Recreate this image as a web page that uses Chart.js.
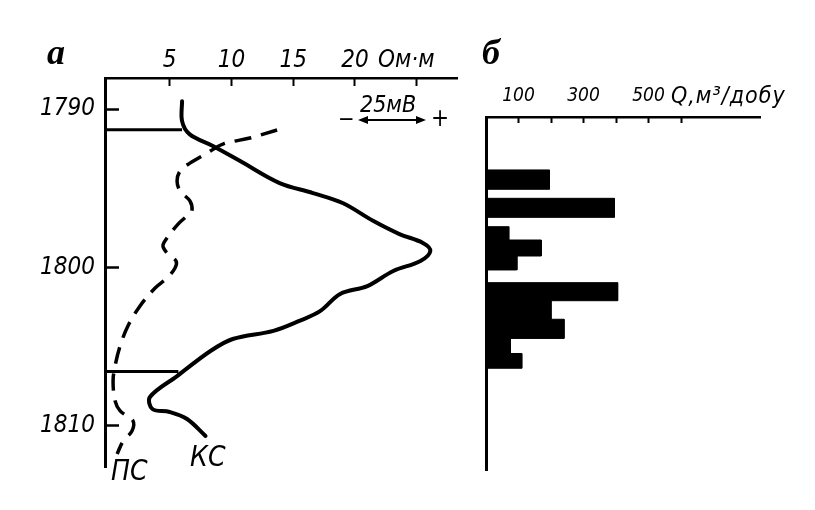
<!DOCTYPE html>
<html lang="uk">
<head>
    <meta charset="UTF-8">
    <title>КС, ПС і дебіт</title>
    <script src="https://cdn.jsdelivr.net/npm/chart.js"></script>
    <style>
        body { margin: 0; background: #fff; }
        #wrap { position: relative; width: 815px; height: 510px; overflow: hidden; }
        .box { position: absolute; top: 0; height: 510px; }
        .t { position: absolute; color: #000; white-space: nowrap; line-height: 1;
             font-family: 'Liberation Sans Narrow', 'DejaVu Sans Condensed', sans-serif; font-style: italic; }
        .s { font-family: 'Liberation Serif', 'DejaVu Serif', serif; font-weight: bold; font-size: 36px; }
    </style>
</head>
<body>
<div id="wrap">
    <div class="box" style="left:0;width:470px;"><canvas id="logChart"></canvas></div>
    <div class="box" style="left:470px;width:345px;"><canvas id="qChart"></canvas></div>

    <div class="t s" style="left:47px;top:34px;">а</div>
    <div class="t s" style="left:482px;top:34px;">б</div>
    <div class="t" style="left:378px;top:47px;font-size:24px;">Ом·м</div>
    <div class="t" style="left:360px;top:93px;font-size:23px;">25мВ</div>
    <div class="t" style="left:338px;top:108px;font-size:22px;">−</div>
    <div style="position:absolute;left:366px;top:119px;width:52px;height:2px;background:#000;"></div>
    <div style="position:absolute;left:358px;top:116px;width:0;height:0;border-top:4px solid transparent;border-bottom:4px solid transparent;border-right:10px solid #000;"></div>
    <div style="position:absolute;left:416px;top:116px;width:0;height:0;border-top:4px solid transparent;border-bottom:4px solid transparent;border-left:10px solid #000;"></div>
    <div class="t" style="left:431px;top:106px;font-size:24px;font-style:normal;">+</div>
    <div class="t" style="left:111px;top:457px;font-size:28px;">ПС</div>
    <div class="t" style="left:190px;top:443px;font-size:28px;">КС</div>
    <div class="t" style="left:671px;top:84px;font-size:23px;letter-spacing:1px;">Q,м³/добу</div>
</div>
<script>
    // осі
    const depthTicks = [1790, 1800, 1810];
    const rhoTicks = [5, 10, 15, 20, 25];
    const rhoLabels = ['5', '10', '15', '20', ''];
    const qTicks = [100, 200, 300, 400, 500, 600];
    const qLabels = ['100', '', '300', '', '500', ''];

    // КС, Ом·м
    const ksDepth = [1789.5, 1790.76, 1791.58, 1792.33, 1793.28, 1794.67, 1795.3, 1795.93, 1797.07, 1797.89,
        1798.45, 1798.96, 1799.59, 1800.22, 1801.17, 1801.67, 1802.74, 1803.37, 1804.0, 1804.51,
        1805.27, 1806.85, 1808.17, 1808.93, 1809.12, 1809.56, 1810.63];
    const ksRho = [6.0, 6.0, 6.6, 8.5, 10.7, 13.9, 16.6, 19.0, 21.5, 23.6,
        25.5, 26.1, 25.3, 23.1, 21.0, 18.8, 17.2, 15.5, 13.4, 10.1,
        8.3, 5.6, 3.4, 3.6, 5.0, 6.4, 7.9];

    // ПС, мВ (відносно лінії глин)
    const psDepth = [1791.32, 1791.83, 1792.21, 1792.78, 1793.41, 1793.91, 1794.54, 1795.17, 1795.8, 1796.44,
        1796.75, 1797.26, 1798.14, 1798.64, 1799.15, 1799.59, 1800.03, 1800.66, 1801.29, 1802.43,
        1803.69, 1804.95, 1806.21, 1807.16, 1808.42, 1809.05, 1809.68, 1810.32, 1810.95, 1811.77];
    const psMv = [67.1, 56.3, 45.6, 39.3, 32.5, 28.6, 27.4, 28.6, 32.5, 33.3,
        31.3, 27.8, 23.4, 21.8, 23.8, 27.0, 26.6, 23.4, 18.7, 12.7,
        7.9, 4.8, 2.8, 2.0, 2.8, 4.8, 9.9, 9.5, 6.0, 3.6];

    // покрівля і підошва пласта
    const layerDepth = [1791.3, 1806.57];
    const layerRho = [6.0, 5.7];

    // дебіт по інтервалах
    const qTop = [1793.91, 1795.70, 1797.49, 1798.33, 1799.34, 1801.02, 1802.16, 1803.33, 1804.54, 1805.49];
    const qBottom = [1795.13, 1796.90, 1798.33, 1799.34, 1800.22, 1802.16, 1803.33, 1804.54, 1805.49, 1806.42];
    const qValue = [195, 395, 70, 170, 95, 405, 200, 240, 75, 110];

    const fam = "'Liberation Sans Narrow', 'DejaVu Sans Condensed', sans-serif";
    const rhoMin = -0.24, rhoMax = 28.26;

    const ksData = ksDepth.map((d, i) => ({ x: ksRho[i], y: d }));
    const psData = psDepth.map((d, i) => ({ x: psMv[i], y: d }));
    const layerSets = layerDepth.map((d, i) => ({
        data: [{ x: rhoMin, y: d }, { x: layerRho[i], y: d }],
        showLine: true, borderColor: '#000', borderWidth: 3, pointRadius: 0, tension: 0
    }));

    new Chart(document.getElementById('logChart'), {
        type: 'scatter',
        data: {
            datasets: [
                { label: 'КС', data: ksData, showLine: true, borderColor: '#000', borderWidth: 4,
                  pointRadius: 0, tension: 0.35, borderCapStyle: 'round', borderJoinStyle: 'round' },
                { label: 'ПС', data: psData, xAxisID: 'xs', showLine: true, borderColor: '#000', borderWidth: 3.5,
                  borderDash: [17, 10], pointRadius: 0, tension: 0.35 },
                ...layerSets
            ]
        },
        options: {
            responsive: true,
            maintainAspectRatio: false,
            animation: false,
            layout: { padding: { left: 0, top: 0, right: 13, bottom: 43 } },
            plugins: { legend: { display: false }, tooltip: { enabled: false } },
            scales: {
                x: {
                    type: 'linear', position: 'top', min: rhoMin, max: rhoMax,
                    afterBuildTicks: s => { s.ticks = rhoTicks.map(v => ({ value: v })); },
                    afterFit: s => { s.height = 78; },
                    grid: { drawOnChartArea: false, color: '#000', tickLength: -8, tickWidth: 2 },
                    border: { color: '#000', width: 2.5 },
                    ticks: { color: '#000', padding: 11, maxRotation: 0, autoSkip: false,
                             font: { family: fam, size: 24, style: 'italic' },
                             callback: (v, i) => rhoLabels[i] }
                },
                xs: { type: 'linear', axis: 'x', display: false, min: -1.2, max: 138.5 },
                y: {
                    type: 'linear', reverse: true, min: 1788.04, max: 1812.59,
                    afterBuildTicks: s => { s.ticks = depthTicks.map(v => ({ value: v })); },
                    afterFit: s => { s.width = 105; },
                    grid: { drawOnChartArea: false, color: '#000', tickLength: -14, tickWidth: 2.5 },
                    border: { color: '#000', width: 3 },
                    ticks: { color: '#000', padding: 24, autoSkip: false,
                             font: { family: fam, size: 24, style: 'italic' },
                             callback: (v, i) => String(depthTicks[i]) }
                }
            }
        }
    });

    const qPoly = [];
    qTop.forEach((t, i) => {
        qPoly.push({ x: 0, y: t }, { x: qValue[i], y: t }, { x: qValue[i], y: qBottom[i] }, { x: 0, y: qBottom[i] });
    });

    new Chart(document.getElementById('qChart'), {
        type: 'scatter',
        data: {
            datasets: [
                { label: 'Q', data: qPoly, showLine: true, fill: 'shape', backgroundColor: '#000',
                  borderColor: '#000', borderWidth: 1, pointRadius: 0, tension: 0 }
            ]
        },
        options: {
            responsive: true,
            maintainAspectRatio: false,
            animation: false,
            layout: { padding: { left: 0, top: 0, right: 55, bottom: 40 } },
            plugins: { legend: { display: false }, tooltip: { enabled: false } },
            scales: {
                x: {
                    type: 'linear', position: 'top', min: 0, max: 843,
                    afterBuildTicks: s => { s.ticks = qTicks.map(v => ({ value: v })); },
                    afterFit: s => { s.height = 117; },
                    grid: { drawOnChartArea: false, color: '#000', tickLength: -6, tickWidth: 2 },
                    border: { color: '#000', width: 2.5 },
                    ticks: { color: '#000', padding: 16, maxRotation: 0, autoSkip: false,
                             font: { family: fam, size: 19, style: 'italic' },
                             callback: (v, i) => qLabels[i] }
                },
                y: {
                    type: 'linear', reverse: true, min: 1790.57, max: 1812.84,
                    afterFit: s => { s.width = 16; },
                    grid: { display: false },
                    border: { color: '#000', width: 3 },
                    ticks: { display: false }
                }
            }
        }
    });
</script>
</body>
</html>
